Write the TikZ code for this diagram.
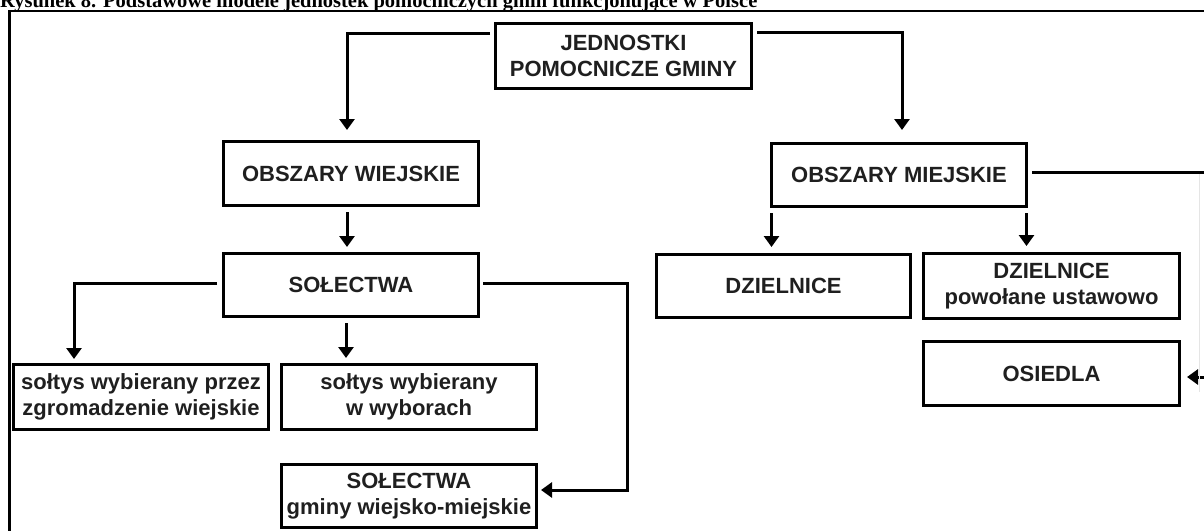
\documentclass[tikz,border=0pt]{standalone}
\usepackage{fontspec}
\setmainfont{Liberation Serif}
\newfontfamily\arialf{Liberation Sans}
\usetikzlibrary{arrows.meta,calc}
\begin{document}
\begin{tikzpicture}[x=1pt,y=-1pt,
  box/.style={draw=black, line width=3pt, inner sep=0pt, align=center, text=black!88,
    font=\arialf\bfseries\fontsize{22}{26}\selectfont},
  conn/.style={line width=3pt, -{Triangle[width=15pt,length=11pt]}},
  plain/.style={line width=3pt}]
\useasboundingbox (0,0) rectangle (1204,530);
\clip (0,0) rectangle (1204,530);
% title and frame
\node[anchor=base west, inner sep=0pt, font=\bfseries\fontsize{20.5}{24}\selectfont] (title) at (0,7)
  {Rysunek 8. Podstawowe modele jednostek pomocniczych gmin funkcjonujące w Polsce};
\draw[line width=2.4pt] (9.5,531) -- (9.5,11) -- (1205,11);
% boxes
\node[box, minimum width=256pt, minimum height=65pt] (top) at (623.5,56) {JEDNOSTKI\\POMOCNICZE GMINY};
\node[box, minimum width=255pt, minimum height=64pt] (ow) at (351,173.5) {OBSZARY WIEJSKIE};
\node[box, minimum width=255pt, minimum height=63pt] (om) at (899,175) {OBSZARY MIEJSKIE};
\node[box, minimum width=255pt, minimum height=63pt] (sol) at (351,285) {SOŁECTWA};
\node[box, minimum width=254pt, minimum height=63pt] (dz) at (783.5,286) {DZIELNICE};
\node[box, minimum width=256pt, minimum height=65pt] (dzu) at (1051.5,286) {DZIELNICE\\powołane ustawowo};
\node[box, minimum width=256pt, minimum height=64pt] (os) at (1051.5,373.5) {OSIEDLA};
\node[box, minimum width=255pt, minimum height=65pt] (s1) at (141,397) {sołtys wybierany przez\\zgromadzenie wiejskie};
\node[box, minimum width=255pt, minimum height=65pt] (s2) at (409,397) {sołtys wybierany\\w wyborach};
\node[box, minimum width=255pt, minimum height=63pt] (sg) at (409,496) {SOŁECTWA\\gminy wiejsko-miejskie};
% free ends
\coordinate (omr) at (1207,172);
\coordinate (rc) at (627,283);
% connectors
\draw[conn, shorten <=4pt, shorten >=10pt] ([yshift=23pt]top.west) -| ([xshift=-4pt]ow.north);
\draw[conn, shorten <=4pt, shorten >=12pt] ([yshift=24pt]top.east) -| ([xshift=3pt]om.north);
\draw[conn, shorten <=5pt, shorten >=5pt] ([xshift=-4pt]ow.south) -- ([xshift=-4pt]sol.north);
\draw[conn, shorten <=5pt, shorten >=4pt] ([yshift=2pt]sol.west) -| ([xshift=-67pt]s1.north);
\draw[conn, shorten <=5pt, shorten >=5pt] ([xshift=-5pt]sol.south) -- ([xshift=-5pt]sol.south |- s2.north);
\draw[conn, shorten <=3pt, shorten >=3pt] ([yshift=2pt]sol.east) -- (rc) |- ([yshift=6pt]sg.east);
\draw[conn, shorten <=5pt, shorten >=6pt] ([xshift=1.5pt]om.south west) -- ([xshift=1.5pt]om.south west |- dz.north);
\draw[conn, shorten <=5pt, shorten >=6pt] ([xshift=-1.5pt]om.south east) -- ([xshift=-1.5pt]om.south east |- dzu.north);
\draw[conn, shorten <=4pt, shorten >=6pt] ([yshift=3pt]om.east) -- (omr) |- ([yshift=-3.5pt]os.east);
\draw[gray!20, line width=1pt] (1199,174) -- (1199,392);
\end{tikzpicture}
\end{document}
